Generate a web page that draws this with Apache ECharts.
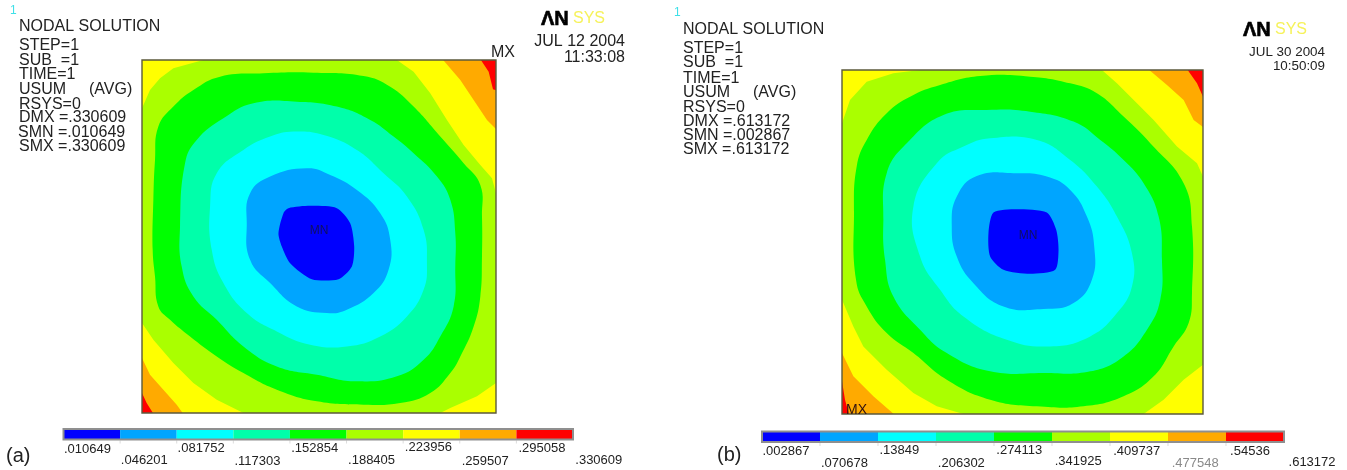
<!DOCTYPE html>
<html><head><meta charset="utf-8">
<style>html,body{margin:0;padding:0;background:#fff}#c{width:1347px;height:470px}</style>
<script src="https://cdn.jsdelivr.net/npm/echarts@6/dist/echarts.min.js"></script>
</head><body><div id="c"></div>
<script>
const bandColors = ['#0000ff','#00a5ff','#00ffff','#00ffaa','#00ff00','#aaff00','#ffff00','#ffaa00','#ff0000'];
const levelsA = [0.010649,0.046201,0.081752,0.117303,0.152854,0.188405,0.223956,0.259507,0.295058,0.330609];
const levelsB = [0.002867,0.070678,0.13849,0.206302,0.274113,0.341925,0.409737,0.477548,0.54536,0.613172];
const tickTextA = ['.010649','.046201','.081752','.117303','.152854','.188405','.223956','.259507','.295058','.330609'];
const tickTextB = ['.002867','.070678','.13849','.206302','.274113','.341925','.409737','.477548','.54536','.613172'];

// Plate extents in the reading units of the contour outlines
const plateA = {x:[36,1097], y:[30,1090]};
const plateB = {x:[36,1118], y:[30,1063]};

// Panel (a) contour outlines, band index into bandColors
const aRed = [[1045,20],[1075,65],[1088,118],[1110,125],[1110,20]];
const aRed2 = [[20,1030],[36,1030],[50,1060],[75,1100],[20,1100]];
const aOrange = [[930,20],[990,90],[1030,150],[1070,210],[1110,250],[1110,20]];
const aOrange2 = [[20,925],[36,925],[60,975],[100,1020],[140,1065],[165,1100],[20,1100]];
const aLime = [[36,175],[60,120],[90,85],[130,55],[190,38],[220,30],[800,30],[850,65],[900,130],[950,210],[1000,285],[1050,345],[1085,385],[1097,430],[1097,1000],[1040,1040],[960,1075],[930,1090],[340,1090],[260,1050],[190,1000],[130,940],[70,870],[36,820]];
const aGreen = [[270,80],[400,70],[550,68],[700,78],[780,110],[850,170],[930,260],[1000,340],[1050,405],[1055,500],[1055,620],[1050,740],[1030,830],[990,920],[960,970],[900,1030],[810,1060],[700,1065],[560,1055],[440,1020],[340,970],[260,920],[180,860],[120,810],[85,770],[75,680],[68,600],[70,450],[75,330],[85,230],[130,170],[190,120]];
const aTeal = [[370,160],[500,155],[620,170],[720,210],[790,260],[850,310],[920,380],[960,450],[975,550],[975,650],[970,770],[930,860],[880,930],[800,980],[680,995],[560,975],[440,950],[340,890],[260,810],[190,740],[155,650],[150,530],[165,340],[200,270],[280,205]];
const aCyan = [[490,245],[580,255],[680,300],[760,370],[830,440],[880,540],[890,640],[880,720],[830,800],[750,860],[650,890],[540,885],[440,845],[350,790],[280,700],[245,600],[240,470],[260,370],[340,300],[420,260]];
const aSky = [[530,355],[600,375],[680,420],[750,490],[780,570],[775,660],[730,730],[650,780],[590,790],[500,770],[420,700],[360,630],[350,520],[360,430],[420,380]];
const aBlue = [[475,475],[540,468],[620,475],[660,520],[672,590],[665,650],[625,688],[545,688],[480,640],[455,590],[445,550],[460,490]];

// Panel (b) contour outlines
const bRed = [[1065,20],[1100,70],[1118,110],[1130,110],[1130,20]];
const bRed2 = [[20,965],[36,965],[45,1020],[60,1075],[20,1075]];
const bOrange = [[945,20],[1010,75],[1060,120],[1090,180],[1130,210],[1130,20]];
const bOrange2 = [[20,880],[36,880],[70,950],[130,1010],[205,1075],[20,1075]];
const bLime = [[36,190],[60,120],[110,65],[190,40],[270,30],[815,30],[860,70],[920,130],[970,180],[1040,260],[1100,310],[1118,350],[1118,915],[1060,960],[1000,1020],[940,1063],[400,1063],[320,1040],[250,1000],[170,930],[100,860],[70,800],[36,720]];
const bGreen = [[330,75],[450,48],[600,50],[720,70],[800,100],[880,170],[960,250],[1060,370],[1085,500],[1085,700],[1075,790],[1030,860],[970,950],[880,1010],[760,1040],[620,1040],[480,1020],[350,960],[250,880],[170,820],[110,740],[78,660],[72,460],[80,320],[110,240],[170,160],[240,110]];
const bTeal = [[340,165],[470,150],[600,155],[730,185],[810,240],[880,300],[940,370],[985,470],[995,600],[990,720],[950,810],[880,890],[780,935],[640,940],[480,935],[350,880],[270,810],[190,710],[165,600],[160,480],[170,340],[230,250]];
const bCyan = [[480,235],[620,240],[720,300],[800,380],[860,470],[905,580],[905,680],[860,760],[780,830],[660,860],[530,840],[400,770],[330,690],[270,590],[250,440],[320,310],[400,260]];
const bSky = [[440,348],[560,340],[650,350],[720,390],[770,470],[792,560],[785,660],[730,730],[640,748],[520,740],[430,670],[380,590],[365,500],[380,410]];
const bBlue = [[490,458],[560,448],[650,458],[678,510],[685,570],[675,630],[600,642],[520,630],[480,590],[475,520]];

const FONT = '"Liberation Sans", Arial, sans-serif';
const INK = '#222';

function plateSeries(plate, gridIdx, layers){
  return [{
    type:'custom', xAxisIndex:gridIdx, yAxisIndex:gridIdx, clip:true, silent:true,
    coordinateSystem:'cartesian2d', data:layers.map((l,i)=>[i]),
    renderItem:(p,api)=>{
      const l = layers[api.value(0)];
      return {type:'polygon', shape:{points:l.pts.map(q=>api.coord(q)), smooth:l.smooth},
              style:{fill:bandColors[l.band], stroke:null}};
    }
  },{
    type:'custom', xAxisIndex:gridIdx, yAxisIndex:gridIdx, clip:false, silent:true, z:5,
    data:[[0]],
    renderItem:(p,api)=>{
      const a = api.coord([plate.x[0],plate.y[0]]), b = api.coord([plate.x[1],plate.y[1]]);
      return {type:'rect', shape:{x:a[0],y:a[1],width:b[0]-a[0],height:b[1]-a[1]},
              style:{fill:null, stroke:'#5c5a3c', lineWidth:1.4}};
    }
  }];
}

function barSeries(levels, texts, gridIdx, labelOffsets, labelDx){
  return [{
    type:'custom', xAxisIndex:gridIdx, yAxisIndex:gridIdx, clip:false, silent:true,
    data:levels.slice(0,-1).map((v,i)=>[v,levels[i+1],i]),
    renderItem:(p,api)=>{
      const a = api.coord([api.value(0),1]), b = api.coord([api.value(1),0]);
      return {type:'rect', shape:{x:a[0],y:a[1],width:b[0]-a[0],height:b[1]-a[1]},
              style:{fill:bandColors[api.value(2)], stroke:null}};
    }
  },{
    type:'custom', xAxisIndex:gridIdx, yAxisIndex:gridIdx, clip:false, silent:true, z:5,
    data:[[0]],
    renderItem:(p,api)=>{
      const a = api.coord([levels[0],1]), b = api.coord([levels[levels.length-1],0]);
      return {type:'rect', shape:{x:a[0],y:a[1],width:b[0]-a[0],height:b[1]-a[1]},
              style:{fill:null, stroke:'#8f8f8f', lineWidth:2}};
    }
  },{
    type:'custom', xAxisIndex:gridIdx, yAxisIndex:gridIdx, clip:false, silent:true, z:4,
    data:levels.slice(1,-1).map(v=>[v]),
    renderItem:(p,api)=>{
      const c = api.coord([api.value(0),0]);
      return {type:'line', shape:{x1:c[0],y1:c[1]+1,x2:c[0],y2:c[1]+4},
              style:{stroke:'#dcdcdc', lineWidth:1}};
    }
  },{
    type:'custom', xAxisIndex:gridIdx, yAxisIndex:gridIdx, clip:false, silent:true, z:6,
    data:levels.map((v,i)=>[v,i]),
    renderItem:(p,api)=>{
      const i = api.value(1), c = api.coord([api.value(0),0]);
      return {type:'text', style:{text:texts[i], x:c[0]+0.5+i*labelDx, y:c[1]+labelOffsets[i],
        font:'13px '+FONT, fill:texts[i]==='.477548'?'#8a8a8a':INK, textAlign:'left', textVerticalAlign:'middle'}};
    }
  }];
}

const hiddenAxis = (gridIndex,min,max,inverse)=>({type:'value',gridIndex,min,max,inverse:!!inverse,show:false});

const layersA = [
  {band:6,pts:[[0,0],[1200,0],[1200,1200],[0,1200]],smooth:0},
  {band:7,pts:aOrange,smooth:0},{band:7,pts:aOrange2,smooth:0},
  {band:8,pts:aRed,smooth:0},{band:8,pts:aRed2,smooth:0},
  {band:5,pts:aLime,smooth:0},{band:4,pts:aGreen,smooth:0.45},{band:3,pts:aTeal,smooth:0.45},
  {band:2,pts:aCyan,smooth:0.45},{band:1,pts:aSky,smooth:0.45},{band:0,pts:aBlue,smooth:0.25}];
const layersB = [
  {band:6,pts:[[0,0],[1200,0],[1200,1200],[0,1200]],smooth:0},
  {band:7,pts:bOrange,smooth:0},{band:7,pts:bOrange2,smooth:0},
  {band:8,pts:bRed,smooth:0},{band:8,pts:bRed2,smooth:0},
  {band:5,pts:bLime,smooth:0},{band:4,pts:bGreen,smooth:0.45},{band:3,pts:bTeal,smooth:0.45},
  {band:2,pts:bCyan,smooth:0.45},{band:1,pts:bSky,smooth:0.45},{band:0,pts:bBlue,smooth:0.25}];

const t = (text,x,y,size,opts={})=>({type:'text',x,y,z:20,silent:true,style:Object.assign({
  text,font:size+'px '+FONT,fill:INK,textVerticalAlign:'middle',textAlign:'left'},opts)});
const logo = (x,y)=>[
  t('\u039bN',x,y,20,{font:'bold 20px '+FONT,fill:'#000',stroke:'#000',lineWidth:0.6}),
  t('SYS',x+32,y,16,{fill:'#f6f25a'})
];

const textBlocks = [
  t('1',10,11,12,{fill:'#3fe0e8'}),
  t('NODAL SOLUTION',19,26.5,16),
  t('STEP=1',19,46,16),t('SUB  =1',19,61,16),t('TIME=1',19,75,16),
  t('USUM',19,90,16),t('(AVG)',89,90,16),t('RSYS=0',19,105,16),
  t('DMX =.330609',19,118,16),t('SMN =.010649',18,133,16),t('SMX =.330609',19,147,16),
  t('JUL 12 2004',625,42,16,{textAlign:'right'}),t('11:33:08',625,58,16,{textAlign:'right'}),
  t('MX',491,53,16),t('MN',319,231,12,{textAlign:'center',fill:'#101060'}),
  t('(a)',6,456,20),
  ...logo(541,19),
  t('1',674,13,12,{fill:'#3fe0e8'}),
  t('NODAL SOLUTION',683,29.5,16),
  t('STEP=1',683,49,16),t('SUB  =1',683,63,16),t('TIME=1',683,79,16),
  t('USUM',683,93,16),t('(AVG)',753,93,16),t('RSYS=0',683,108,16),
  t('DMX =.613172',683,122,16),t('SMN =.002867',683,136,16),t('SMX =.613172',683,150,16),
  t('JUL 30 2004',1325,52,13.4,{textAlign:'right'}),t('10:50:09',1325,66,13.4,{textAlign:'right'}),
  t('MN',1028,236,12,{textAlign:'center',fill:'#101060'}),t('MX',846,410,14,{fill:'#301010'}),
  t('(b)',717,455,20),
  ...logo(1243,30)
];

const chart = echarts.init(document.getElementById('c'),null,{renderer:'canvas'});
chart.setOption({
  animation:false, backgroundColor:'#fff',
  grid:[
    {left:142,top:60,width:354,height:353},
    {left:63.5,top:429,width:509.5,height:10.5},
    {left:842,top:70,width:361,height:344},
    {left:762,top:431.5,width:522,height:10.5}
  ],
  xAxis:[hiddenAxis(0,plateA.x[0],plateA.x[1]),hiddenAxis(1,levelsA[0],levelsA[9]),
         hiddenAxis(2,plateB.x[0],plateB.x[1]),hiddenAxis(3,levelsB[0],levelsB[9])],
  yAxis:[hiddenAxis(0,plateA.y[0],plateA.y[1],true),hiddenAxis(1,0,1),
         hiddenAxis(2,plateB.y[0],plateB.y[1],true),hiddenAxis(3,0,1)],
  series:[
    ...plateSeries(plateA,0,layersA),
    ...barSeries(levelsA,tickTextA,1,[9.5,20.5,8.5,21.5,8.5,20.5,7.5,21.5,8.5,20.5],0.2),
    ...plateSeries(plateB,2,layersB),
    ...barSeries(levelsB,tickTextB,3,[9.5,21.5,8.5,21.5,8.5,19.5,9.5,21.5,9.5,20.5],0.45)
  ],
  graphic:{elements:textBlocks}
});
</script></body></html>
